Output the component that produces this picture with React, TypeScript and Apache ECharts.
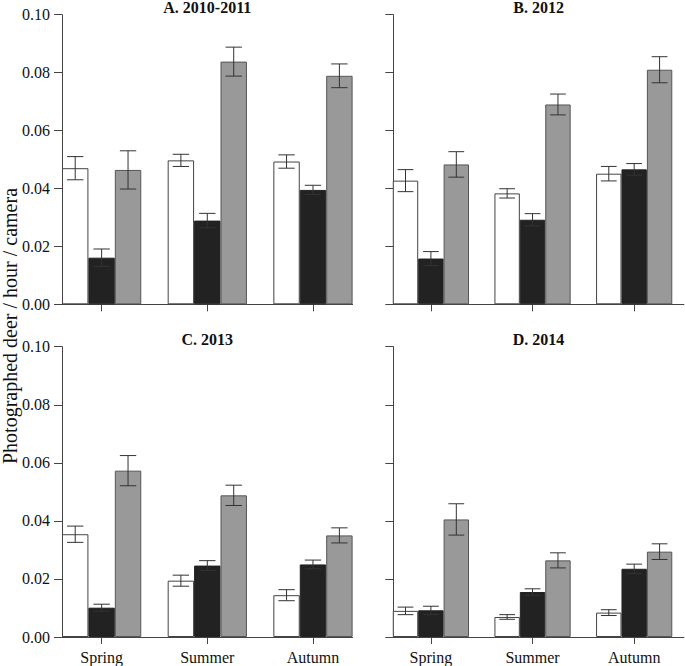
import React, { useEffect, useRef } from "react";
import * as echarts from "echarts";

const categories = ["Spring", "Summer", "Autumn"];
const panelTitles = ["A. 2010-2011", "B. 2012", "C. 2013", "D. 2014"];
const yTicks = [0, 0.02, 0.04, 0.06, 0.08, 0.1];

// Panel A
const aWhite = [0.047, 0.0497, 0.0493];
const aWhiteErr = [0.004, 0.0021, 0.0023];
const aBlack = [0.0161, 0.0289, 0.0395];
const aBlackErr = [0.003, 0.0025, 0.0016];
const aGrey = [0.0464, 0.0838, 0.0789];
const aGreyErr = [0.0066, 0.005, 0.0041];
// Panel B
const bWhite = [0.0427, 0.0383, 0.0451];
const bWhiteErr = [0.0038, 0.0016, 0.0025];
const bBlack = [0.0158, 0.0292, 0.0466];
const bBlackErr = [0.0024, 0.0021, 0.002];
const bGrey = [0.0483, 0.069, 0.081];
const bGreyErr = [0.0044, 0.0036, 0.0045];
// Panel C
const cWhite = [0.0354, 0.0194, 0.0144];
const cWhiteErr = [0.0028, 0.0019, 0.0019];
const cBlack = [0.0101, 0.0246, 0.025];
const cBlackErr = [0.0012, 0.0017, 0.0015];
const cGrey = [0.0573, 0.0488, 0.035];
const cGreyErr = [0.0052, 0.0035, 0.0026];
// Panel D
const dWhite = [0.009, 0.0069, 0.0084];
const dWhiteErr = [0.0013, 0.0008, 0.001];
const dBlack = [0.0092, 0.0155, 0.0235];
const dBlackErr = [0.0014, 0.0011, 0.0016];
const dGrey = [0.0405, 0.0264, 0.0294];
const dGreyErr = [0.0054, 0.0026, 0.0027];

const panelData = [
  [[aWhite, aWhiteErr], [aBlack, aBlackErr], [aGrey, aGreyErr]],
  [[bWhite, bWhiteErr], [bBlack, bBlackErr], [bGrey, bGreyErr]],
  [[cWhite, cWhiteErr], [cBlack, cBlackErr], [cGrey, cGreyErr]],
  [[dWhite, dWhiteErr], [dBlack, dBlackErr], [dGrey, dGreyErr]],
];

const FONT = "Liberation Serif";
const AXIS_COLOR = "#444";
const barStyles = [
  { color: "#ffffff", borderColor: "#444", borderWidth: 1 },
  { color: "#222222", borderColor: "#222", borderWidth: 1 },
  { color: "#999999", borderColor: "#555", borderWidth: 1 },
];

const U = 290.6 / 11; // width of one bar slot
const layouts = [
  { axisX: 62, top: 14.7, bottom: 304.3 },
  { axisX: 393.3, top: 14.7, bottom: 304.3 },
  { axisX: 62, top: 346.7, bottom: 637 },
  { axisX: 393.3, top: 346.7, bottom: 637 },
];

function buildOption() {
  const grid: any[] = [];
  const xAxis: any[] = [];
  const yAxis: any[] = [];
  const series: any[] = [];
  const graphic: any[] = [];

  layouts.forEach((L, p) => {
    const h = L.bottom - L.top;
    const isBottom = p >= 2;
    const isLeft = p % 2 === 0;
    const wide = 2 * p;
    const narrow = 2 * p + 1;
    grid.push({ left: L.axisX - U / 2, top: L.top, width: 12 * U, height: h });
    grid.push({ left: L.axisX, top: L.top, width: 11 * U, height: h });

    xAxis.push({
      type: "category",
      gridIndex: wide,
      data: categories,
      axisLine: { show: false },
      axisTick: { show: true, alignWithLabel: true, length: 7, lineStyle: { color: AXIS_COLOR, width: 1 } },
      axisLabel: { show: isBottom, margin: 12, fontSize: 16, fontFamily: FONT, color: "#111" },
      splitLine: { show: false },
    });
    xAxis.push({
      type: "value",
      gridIndex: narrow,
      min: 0,
      max: 1,
      axisLine: { show: true, onZero: false, lineStyle: { color: AXIS_COLOR, width: 1 } },
      axisTick: { show: false },
      axisLabel: { show: false },
      splitLine: { show: false },
    });
    yAxis.push({ type: "value", gridIndex: wide, min: 0, max: 0.1, show: false });
    yAxis.push({
      type: "value",
      gridIndex: narrow,
      min: yTicks[0],
      max: yTicks[yTicks.length - 1],
      interval: 0.02,
      axisLine: { show: true, onZero: false, lineStyle: { color: AXIS_COLOR, width: 1 } },
      axisTick: { show: true, length: 8, lineStyle: { color: AXIS_COLOR, width: 1 } },
      axisLabel: {
        show: isLeft,
        margin: 12,
        fontSize: 16,
        fontFamily: FONT,
        color: "#111",
        formatter: (v: number) => v.toFixed(2),
      },
      splitLine: { show: false },
    });

    panelData[p].forEach(([vals, errs], j) => {
      series.push({
        type: "bar",
        name: `Group ${j + 1}`,
        xAxisIndex: wide,
        yAxisIndex: wide,
        data: vals,
        barWidth: "25%",
        barGap: "0%",
        itemStyle: barStyles[j],
        z: 2,
      });
      series.push({
        type: "custom",
        name: `Group ${j + 1} SE`,
        xAxisIndex: wide,
        yAxisIndex: wide,
        data: vals.map((v: number, i: number) => [i, v, errs[i]]),
        encode: { x: 0, y: 1 },
        z: 5,
        renderItem: (params: any, api: any) => {
          const i = api.value(0);
          const v = api.value(1);
          const e = api.value(2);
          const band = api.size([1, 0])[0];
          const bw = band / 4;
          const cx = api.coord([i, v])[0] + (j - 1) * bw;
          const yT = api.coord([i, v + e])[1];
          const yB = api.coord([i, v - e])[1];
          const hw = bw * 0.31;
          const style = { stroke: "#333", lineWidth: 1 };
          return {
            type: "group",
            children: [
              { type: "line", shape: { x1: cx, y1: yT, x2: cx, y2: yB }, style },
              { type: "line", shape: { x1: cx - hw, y1: yT, x2: cx + hw, y2: yT }, style },
              { type: "line", shape: { x1: cx - hw, y1: yB, x2: cx + hw, y2: yB }, style },
            ],
          };
        },
      });
    });

    graphic.push({
      type: "text",
      x: L.axisX + (11 * U) / 2,
      y: L.top - 7.5,
      style: {
        text: panelTitles[p],
        fontSize: 16,
        fontWeight: "bold",
        fontFamily: FONT,
        fill: "#111",
        align: "center",
        verticalAlign: "middle",
      },
    });
  });

  graphic.push({
    type: "text",
    x: 10,
    y: 326,
    rotation: Math.PI / 2,
    style: {
      text: "Photographed deer / hour / camera",
      fontSize: 20,
      fontFamily: FONT,
      fill: "#111",
      align: "center",
      verticalAlign: "middle",
    },
  });

  return {
    animation: false,
    backgroundColor: "#ffffff",
    grid,
    xAxis,
    yAxis,
    series,
    graphic,
  };
}

export default function App() {
  const ref = useRef<HTMLDivElement>(null);
  useEffect(() => {
    if (!ref.current) return;
    const chart = echarts.init(ref.current, null, { renderer: "svg" });
    chart.setOption(buildOption());
    return () => chart.dispose();
  }, []);
  return (
    <div
      ref={ref}
      style={{ position: "fixed", left: 0, top: 0, width: 685, height: 666 }}
    />
  );
}
